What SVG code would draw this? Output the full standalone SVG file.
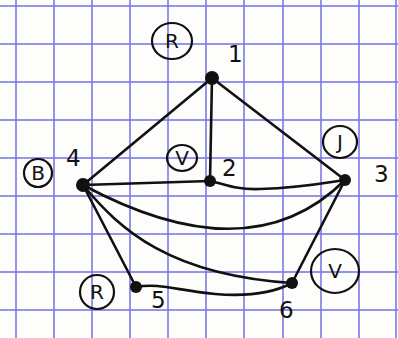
<svg xmlns="http://www.w3.org/2000/svg" width="398" height="338" viewBox="0 0 398 338">
<style>
.grid line{stroke:#7b7be6;stroke-width:2;opacity:0.8}
.edge{fill:none;stroke:#111;stroke-width:2.6;stroke-linecap:round}
.dot{fill:#111}
.num{font-family:"DejaVu Sans",sans-serif;font-size:23px;fill:#111}
.lab{font-family:"DejaVu Sans",sans-serif;font-size:20px;fill:#111;text-anchor:middle}
.ring{fill:none;stroke:#111;stroke-width:2.2}
</style>
<rect width="398" height="338" fill="#fdfdfb"/>
<g class="grid">
<line x1="16" y1="0" x2="16" y2="338"/><line x1="54" y1="0" x2="54" y2="338"/><line x1="92" y1="0" x2="92" y2="338"/><line x1="130" y1="0" x2="130" y2="338"/><line x1="168" y1="0" x2="168" y2="338"/><line x1="206" y1="0" x2="206" y2="338"/><line x1="244" y1="0" x2="244" y2="338"/><line x1="283" y1="0" x2="283" y2="338"/><line x1="321" y1="0" x2="321" y2="338"/><line x1="359" y1="0" x2="359" y2="338"/><line x1="396" y1="0" x2="396" y2="338"/>
<line x1="0" y1="6" x2="398" y2="6"/><line x1="0" y1="44" x2="398" y2="44"/><line x1="0" y1="82" x2="398" y2="82"/><line x1="0" y1="120" x2="398" y2="120"/><line x1="0" y1="158" x2="398" y2="158"/><line x1="0" y1="196" x2="398" y2="196"/><line x1="0" y1="234" x2="398" y2="234"/><line x1="0" y1="272" x2="398" y2="272"/><line x1="0" y1="310" x2="398" y2="310"/>
</g>
<g id="edges">
<path class="edge" d="M212 78 L83 185"/>
<path class="edge" d="M212 78 L210 181"/>
<path class="edge" d="M212 78 L345 180"/>
<path class="edge" d="M83 185 L210 181"/>
<path class="edge" d="M210 181 C225 184 235 190 260 189 C300 188 325 183 345 180"/>
<path class="edge" d="M83 185 Q250 275 345 180"/>
<path class="edge" d="M83 185 C120 230 170 275 292 283"/>
<path class="edge" d="M83 185 L136 287"/>
<path class="edge" d="M136 287 C160 283 175 290 215 294 C250 297 275 292 292 283"/>
<path class="edge" d="M345 180 L292 283"/>
</g>
<g id="n1"><circle class="dot" cx="212" cy="78" r="7"/><text class="num" x="228" y="62">1</text><ellipse class="ring" cx="172" cy="41" rx="20" ry="18"/><text class="lab" x="172" y="48">R</text></g>
<g id="n2"><circle class="dot" cx="210" cy="181" r="6"/><text class="num" x="222" y="176">2</text><ellipse class="ring" cx="182" cy="158" rx="15" ry="13"/><text class="lab" x="182" y="165">V</text></g>
<g id="n3"><circle class="dot" cx="345" cy="180" r="6"/><text class="num" x="374" y="182">3</text><ellipse class="ring" cx="340" cy="142" rx="17" ry="16"/><text class="lab" x="340" y="149">J</text></g>
<g id="n4"><circle class="dot" cx="83" cy="185" r="7"/><text class="num" x="66" y="166">4</text><ellipse class="ring" cx="38" cy="173" rx="14" ry="14"/><text class="lab" x="38" y="180">B</text></g>
<g id="n5"><circle class="dot" cx="136" cy="287" r="6"/><text class="num" x="151" y="308">5</text><ellipse class="ring" cx="97" cy="292" rx="17" ry="17"/><text class="lab" x="97" y="299">R</text></g>
<g id="n6"><circle class="dot" cx="292" cy="283" r="6"/><text class="num" x="279" y="318">6</text><ellipse class="ring" cx="335" cy="271" rx="24" ry="22"/><text class="lab" x="335" y="278">V</text></g>
</svg>
